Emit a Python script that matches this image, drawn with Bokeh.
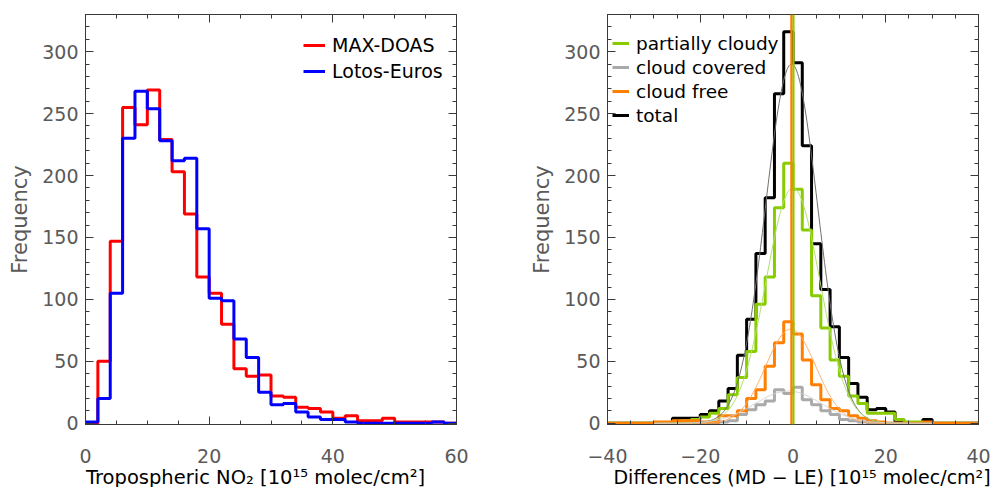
import numpy as np
from bokeh.plotting import figure
from bokeh.layouts import row
from bokeh.models import (Legend, LegendItem, LinearAxis, SingleIntervalTicker,
                          Span, Range1d)
from bokeh.embed import file_html
from bokeh.resources import INLINE

# ---------------- Left panel: NO2 histograms ----------------
no2_edges = list(range(0, 62, 2))
maxdoas_counts = [0, 50, 147, 255, 241, 269, 229, 203, 169, 118,
                  105, 80, 44, 38, 39, 22, 21, 13, 12, 9,
                  4, 6, 2, 2, 4, 1, 1, 1, 1, 0]
lotos_counts = [1, 20, 105, 230, 268, 254, 228, 212, 214, 157,
                101, 99, 68, 53, 25, 15, 16, 9, 5, 3,
                3, 1, 0, 0, 0, 0, 0, 0, 1, 0]

# ---------------- Right panel: difference histograms ----------------
diff_edges = list(range(-40, 42, 2))
total_counts = [0, 0, 0, 0, 0, 0, 0,
                4, 4, 4, 7, 10, 18, 28, 55, 84, 137, 182, 266, 316,
                291, 224, 145, 108, 78, 53, 32, 21, 11, 12, 9, 1, 0, 0, 3,
                0, 0, 0, 0, 0]
partly_counts = [0, 0, 0, 0, 0, 0, 0,
                 1, 2, 3, 5, 8, 12, 23, 37, 58, 96, 118, 174, 210,
                 189, 156, 103, 77, 51, 38, 22, 16, 8, 8, 8, 3, 1, 1, 0,
                 0, 0, 0, 0, 0]
free_counts = [0, 0, 0, 0, 0,
               1, 1, 2, 2, 2, 1, 1, 6, 6, 10, 20, 27, 46, 65, 82,
               72, 51, 31, 19, 12, 10, 6, 4, 2, 1, 0, 0, 0, 0, 1,
               0, 0, 0, 0, 0]
covered_counts = [0, 0, 0, 0, 0, 0, 0, 0, 0, 0, 0, 0,
                  1, 2, 7, 11, 15, 18, 27, 24, 29, 19, 15, 10, 7, 3, 2, 1,
                  0, 0, 0, 0, 0, 0, 0, 0, 0, 0, 0, 0]

# Gaussian fit parameters: total, partially cloudy, cloud free, cloud covered
fit_names = ["total", "partially cloudy", "cloud free", "cloud covered"]
fit_amp = [290, 190, 76, 26]
fit_mean = [-0.3, 0.0, -0.5, -1.0]
fit_sigma = [5.6, 5.8, 5.4, 7.2]

# mean-difference lines
mean_names = ["partially cloudy", "cloud free"]
mean_pos = [0.1, -0.35]

NB = "\u00a0"
left_xlabel = "Tropospheric NO\u2082 [10\u00b9\u2075 molec/cm\u00b2]" + NB * 5
right_xlabel = NB * 3 + "Differences (MD \u2212 LE) [10\u00b9\u2075 molec/cm\u00b2]"

AX = "#3a3a3a"
TICK_TXT = "#5a5a5a"
FONT = "DejaVu Sans"


def style_axis(ax, labels=True):
    ax.axis_line_color = AX
    ax.major_tick_line_color = AX
    ax.minor_tick_line_color = AX
    ax.major_tick_in = 8
    ax.major_tick_out = 0
    ax.minor_tick_in = 4
    ax.minor_tick_out = 0
    ax.major_label_text_font = FONT
    ax.major_label_text_color = TICK_TXT
    ax.major_label_text_line_height = 1.0
    ax.axis_label_text_font = FONT
    ax.axis_label_text_font_style = "normal"
    ax.axis_label_text_line_height = 1.0
    if labels:
        ax.major_label_text_font_size = "19px"
    else:
        ax.major_label_text_font_size = "1px"
        ax.major_label_text_color = None
        ax.major_label_standoff = 0


def make_fig(xr, bl, br, xlabel, xlabel_size):
    p = figure(frame_width=371, frame_height=410, x_range=Range1d(*xr),
               y_range=Range1d(-1, 330),
               output_backend="svg", toolbar_location=None,
               min_border_left=bl, min_border_right=br, min_border_top=14,
               min_border_bottom=40)
    p.xgrid.visible = False
    p.ygrid.visible = False
    p.outline_line_color = AX
    p.xaxis.ticker = SingleIntervalTicker(interval=20, num_minor_ticks=4)
    p.yaxis.ticker = SingleIntervalTicker(interval=50, num_minor_ticks=5)
    for ax in p.xaxis + p.yaxis:
        style_axis(ax)
    p.xaxis.major_label_standoff = 24
    p.yaxis.major_label_standoff = 7
    p.xaxis.axis_label = xlabel
    p.xaxis.axis_label_text_font_size = xlabel_size
    p.xaxis.axis_label_text_color = "black"
    p.xaxis.axis_label_standoff = 0
    p.yaxis.axis_label = "Frequency"
    p.yaxis.axis_label_text_font_size = "21px"
    p.yaxis.axis_label_text_color = "#5a5a5a"
    p.yaxis.axis_label_standoff = 7
    top = LinearAxis(ticker=SingleIntervalTicker(interval=20, num_minor_ticks=4))
    right = LinearAxis(ticker=SingleIntervalTicker(interval=50, num_minor_ticks=5))
    style_axis(top, labels=False)
    style_axis(right, labels=False)
    p.add_layout(top, "above")
    p.add_layout(right, "right")
    return p


def step(p, edges, counts, color, width=3):
    ys = list(counts) + [counts[-1]]
    return p.step(edges, ys, mode="after", line_color=color, line_width=width)


# ---------- left ----------
p1 = make_fig((0, 60), 85, 52, left_xlabel, "19.5px")
r_md = step(p1, no2_edges, maxdoas_counts, "#ff0000")
r_le = step(p1, no2_edges, lotos_counts, "#0000ff")
leg1 = Legend(items=[LegendItem(label="MAX-DOAS", renderers=[r_md]),
                     LegendItem(label="Lotos-Euros", renderers=[r_le])],
              location=(218, 341))

# ---------- right ----------
p2 = make_fig((-40, 40), 99, 13, right_xlabel, "19px")
p2.xaxis.major_label_overrides = {-40: "\u221240", -20: "\u221220"}
r_tot = step(p2, diff_edges, total_counts, "black")
r_cov = step(p2, diff_edges, covered_counts, "#aaaaaa")
r_par = step(p2, diff_edges, partly_counts, "#88cc00")
r_fre = step(p2, diff_edges, free_counts, "#ff7f00")

fit_colors = ["#707070", "#b0e070", "#ffae6e", "#d0d0d0"]
xs = np.linspace(-30, 30, 301)
for a, m, s, c in zip(fit_amp, fit_mean, fit_sigma, fit_colors):
    p2.line(xs, a * np.exp(-(xs - m) ** 2 / (2 * s ** 2)), line_color=c, line_width=1)

mean_colors = {"partially cloudy": "#88cc00", "cloud free": "#ff7f00"}
for n, pos in zip(mean_names, mean_pos):
    p2.add_layout(Span(location=pos, dimension="height", line_color=mean_colors[n],
                       line_width=2.2))

leg2 = Legend(items=[LegendItem(label="partially cloudy", renderers=[r_par]),
                     LegendItem(label="cloud covered", renderers=[r_cov]),
                     LegendItem(label="cloud free", renderers=[r_fre]),
                     LegendItem(label="total", renderers=[r_tot])],
              location=(5, 298))

for lg, fs, gw, lh, sp in [(leg1, "19px", 22, 24, 2), (leg2, "18.5px", 17, 22, 2)]:
    lg.padding = 0
    lg.margin = 0
    lg.spacing = sp
    lg.glyph_width = gw
    lg.glyph_height = lh
    lg.label_height = lh
    lg.label_standoff = 7
    lg.label_text_font = FONT
    lg.label_text_font_size = fs
    lg.label_text_color = "black"
    lg.background_fill_alpha = 0
    lg.border_line_alpha = 0

p1.add_layout(leg1)
p2.add_layout(leg2)

layout = row(p1, p2)
open("out.html", "w").write(file_html(layout, INLINE))
